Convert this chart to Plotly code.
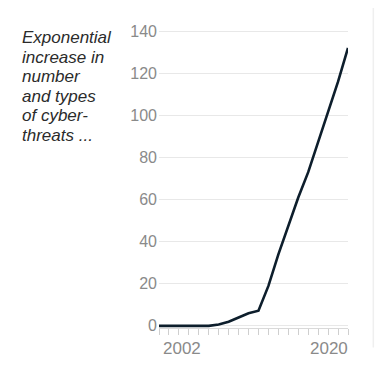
import plotly.graph_objects as go

years = list(range(2001, 2021))
threats = [0, 0, 0, 0, 0, 0, 0.7, 2, 4, 6, 7.2, 19, 34, 48, 61, 73, 87, 101, 116, 132]
y_ticks = [0, 20, 40, 60, 80, 100, 120, 140]
x_labels = [(2001, "2002", "left"), (2020, "2020", "right")]
title_lines = ["Exponential", "increase in", "number", "and types", "of cyber-", "threats ..."]

OFF = 8  # page body margin
W, H = 385 - OFF, 378 - OFF
# plot area in window pixels
PL, PR, PT, PB = 159.3, 348, 28.6, 327.6
m_l, m_r, m_t, m_b = PL - OFF, W - (PR - OFF), PT - OFF, H - (PB - OFF)
pw, ph = W - m_l - m_r, H - m_t - m_b

def px(xw):
    return (xw - OFF - m_l) / pw

def py(yw):
    return (H - m_b - (yw - OFF)) / ph

fig = go.Figure()
fig.add_trace(go.Scatter(
    x=years, y=threats, mode="lines",
    line=dict(color="#0d1e2c", width=2.6),
    hoverinfo="skip", showlegend=False,
))

fig.update_layout(
    width=W, height=H,
    margin=dict(l=m_l, r=m_r, t=m_t, b=m_b, pad=0, autoexpand=False),
    paper_bgcolor="white", plot_bgcolor="white",
    font=dict(family="Liberation Sans, Arial, sans-serif"),
    xaxis=dict(
        range=[years[0], years[-1]], showgrid=False, zeroline=False,
        showline=True, linecolor="#d9d9d9", linewidth=1,
        ticks="outside", ticklen=6, tickcolor="#cfcfcf", tickwidth=1,
        tickmode="linear", tick0=years[0], dtick=1,
        showticklabels=False, fixedrange=True,
    ),
    yaxis=dict(
        range=[-1, 141], tickvals=y_ticks, showgrid=True,
        gridcolor="#e8e8e8", gridwidth=1, zeroline=False, showline=False,
        ticks="", tickfont=dict(size=16, color="#8a8a8a"),
        ticklabelstandoff=1, fixedrange=True,
    ),
)

for xv, txt, anchor in x_labels:
    fig.add_annotation(
        x=xv, y=py(348), xref="x", yref="paper", text=txt, showarrow=False,
        xanchor=anchor, yanchor="middle", xshift=2 if anchor == "left" else 2,
        font=dict(size=17, color="#8a8a8a"),
    )

for i, line in enumerate(title_lines):
    fig.add_annotation(
        x=px(20.5), y=py(37 + i * 19.6), xref="paper", yref="paper",
        text=f"<i>{line}</i>", showarrow=False, xanchor="left", yanchor="middle",
        font=dict(size=17, color="#2b2b2b"),
    )

fig.add_shape(
    type="line", xref="paper", yref="paper",
    x0=px(373.3), x1=px(373.3), y0=py(347), y1=py(0),
    line=dict(color="#efefef", width=1.5),
)

fig.write_html("out.html")
